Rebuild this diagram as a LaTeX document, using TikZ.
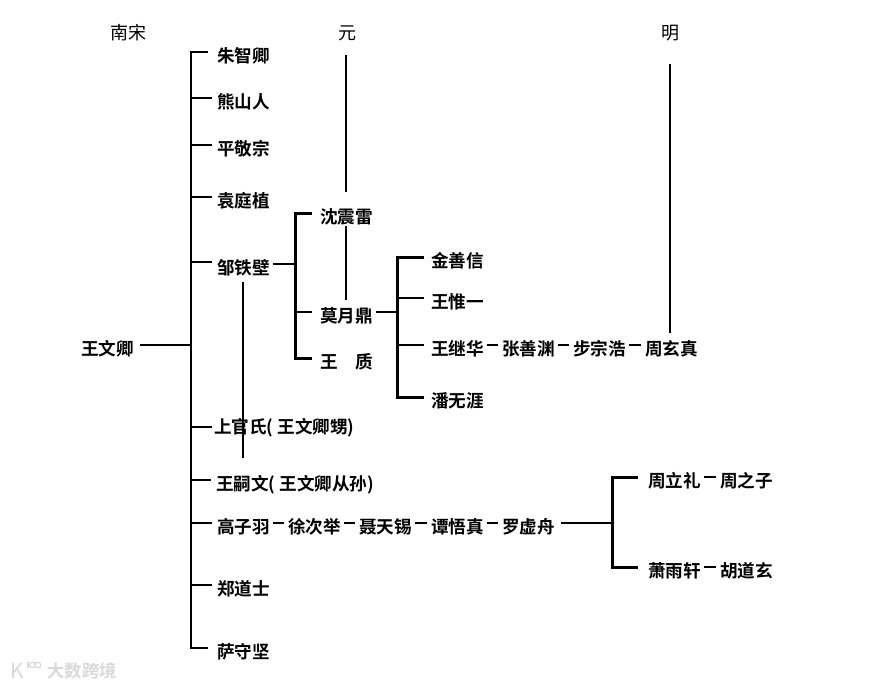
\documentclass[tikz,border=0pt]{standalone}
\usepackage{fontspec}
\setmainfont{Noto Sans CJK SC}[BoldFont={Noto Sans CJK SC Bold}]
\begin{document}
\begin{tikzpicture}[x=1pt,y=-1pt,
  nm/.style={anchor=west,inner sep=0pt,outer sep=0pt,text height=20pt,text depth=0pt,font=\fontsize{17.6pt}{18pt}\selectfont\bfseries,text=black},
  hd/.style={anchor=center,inner sep=0pt,font=\fontsize{18pt}{18pt}\selectfont},
  ln/.style={draw=black,line width=2pt,line cap=butt},
  forkln/.style={draw=black,line width=3pt,line join=miter},
  dashln/.style={draw=black,line width=1.8pt,shorten <=3pt,shorten >=4pt},
  wmark/.style={text=black!15,inner sep=0pt,font=\fontsize{17.3pt}{20pt}\selectfont\bfseries}]
\useasboundingbox (0,0) rectangle (894,688);
\fill[white] (0,0) rectangle (894,688);
% headers
\node[hd] (hsong) at (128,33) {南宋};
\node[hd] (hyuan) at (347,33) {元};
\node[hd] (hming) at (670,33) {明};
% column 1
\node[nm] (wen) at (81,345) {王文卿};
\node[nm] (zhu) at (217,52) {朱智卿};
\node[nm] (xiong) at (217,98) {熊山人};
\node[nm] (ping) at (217,145) {平敬宗};
\node[nm] (yuan) at (217,197) {袁庭植};
\node[nm] (zou) at (217,264) {邹铁壁};
\node[nm] (shang) at (214,423) {上官氏( 王文卿甥)};
\node[nm] (si) at (216,480) {王嗣文( 王文卿从孙)};
\node[nm] (gao) at (217,523) {高子羽};
\node[nm] (zheng) at (217,585) {郑道士};
\node[nm] (sa) at (217,648) {萨守坚};
% column 2
\node[nm] (shen) at (320,213) {沈震雷};
\node[nm] (mo) at (320,312) {莫月鼎};
\node[nm] (zhi) at (320,358) {王　质};
% column 3
\node[nm] (jin) at (431,257) {金善信};
\node[nm] (wei) at (431,298) {王惟一};
\node[nm] (ji) at (431,345) {王继华};
\node[nm] (pan) at (431,397) {潘无涯};
\node[nm] (zhang) at (502,345) {张善渊};
\node[nm] (bu) at (573,345) {步宗浩};
\node[nm] (zx) at (645,345) {周玄真};
% chain under gao
\node[nm] (xu) at (288,523) {徐次举};
\node[nm] (nie) at (359,523) {聂天锡};
\node[nm] (tan) at (431,523) {谭悟真};
\node[nm] (luo) at (502,523) {罗虚舟};
\node[nm] (zl) at (648,477) {周立礼};
\node[nm] (zz) at (720,477) {周之子};
\node[nm] (xiao) at (648,567) {萧雨轩};
\node[nm] (hu) at (720,567) {胡道玄};
% trunk
\coordinate (ta) at (191,52);
\coordinate (tb) at (191,648);
\draw[ln,line width=2.2pt] (208,52) -- (ta) -- (tb) -- (208,648);
\foreach \y/\n in {98/xiong,145/ping,197/yuan,480/si,585/zheng}{
  \draw[ln] (191,\y) -- ([xshift=-5pt]\n.west);
}
\draw[ln] (191,523) -- ([xshift=-5pt]gao.west);
\draw[ln] (191,262) -- ([xshift=-5pt,yshift=2pt]zou.west);
\draw[ln] (191,427) -- ([xshift=-2pt,yshift=-4pt]shang.west);
\coordinate (twen) at (191,345);
\draw[ln] ([xshift=6pt]wen.east) -- (twen);
% zou fork
\coordinate (fa) at (295,213);
\coordinate (fb) at (295,358);
\coordinate (fz) at (295,264);
\draw[ln] ([xshift=3pt]zou.east) -- (fz);
\draw[forkln] ([xshift=-8pt]shen.west) -- (fa) -- (fb) -- ([xshift=-8pt]zhi.west);
\coordinate (fm) at (295,312);
\draw[ln] (fm) -- ([xshift=-8pt]mo.west);
% mo fork
\coordinate (ga) at (397,257);
\coordinate (gb) at (397,397);
\coordinate (gm) at (397,312);
\draw[ln] ([xshift=3pt]mo.east) -- (gm);
\draw[forkln] ([xshift=-7pt]jin.west) -- (ga) -- (gb) -- ([xshift=-7pt]pan.west);
\coordinate (gw) at (397,298);
\coordinate (gj) at (397,345);
\draw[ln] (gw) -- ([xshift=-7pt]wei.west);
\draw[ln] (gj) -- ([xshift=-7pt]ji.west);
% chains
\draw[dashln] (ji) -- (zhang);
\draw[dashln] (zhang) -- (bu);
\draw[dashln] (bu) -- (zx);
\draw[dashln] (gao) -- (xu);
\draw[dashln] (xu) -- (nie);
\draw[dashln] (nie) -- (tan);
\draw[dashln] (tan) -- (luo);
\draw[dashln] (zl) -- (zz);
\draw[dashln] (xiao) -- (hu);
% luo fork
\coordinate (ha) at (612,477);
\coordinate (hb) at (612,567);
\coordinate (hm) at (612,523);
\draw[ln] ([xshift=6pt]luo.east) -- (hm);
\draw[forkln] ([xshift=-10pt]zl.west) -- (ha) -- (hb) -- ([xshift=-10pt]xiao.west);
% verticals
\coordinate (ya) at (346,55);
\coordinate (yb) at (346,192);
\coordinate (yc) at (346,226);
\coordinate (yd) at (346,300);
\draw[ln] (ya) -- (yb);
\draw[ln] (yc) -- (yd);
\coordinate (ma) at (670,64);
\coordinate (mb) at (670,333);
\draw[ln] (ma) -- (mb);
\coordinate (za) at (243,282);
\coordinate (zb) at (243,458);
\draw[ln] (za) -- (zb);
% watermark
\node[wmark,anchor=center] (wm) at (82,671) {大数跨境};
\node[wmark,anchor=center,font=\fontsize{21pt}{21pt}\selectfont] (wk) at (17,671) {K};
\draw[black!15,line width=1.2pt] (28,662) -- (28,668);
\draw[black!15,line width=1.2pt] (32.5,665) circle (2.8pt);
\draw[black!15,line width=1.2pt] (38,665) circle (2.8pt);
\end{tikzpicture}
\end{document}
